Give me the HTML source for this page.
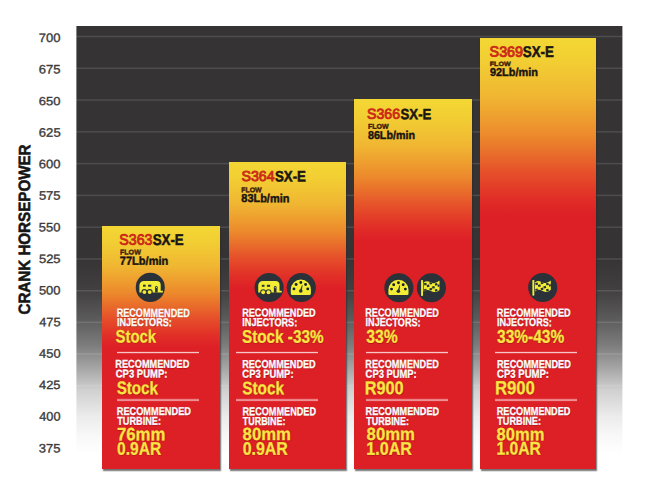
<!DOCTYPE html><html><head><meta charset="utf-8"><title>Crank Horsepower Chart</title><style>

html,body{margin:0;padding:0;background:#fff;}
body{width:648px;height:493px;position:relative;overflow:hidden;font-family:"Liberation Sans",sans-serif;}
#panel{position:absolute;left:0;top:0;transform:translate(76.4px,26px);width:545.8px;height:432px;
 background:linear-gradient(to bottom,#353334 0px,#353334 230px,#413f40 264px,#5b5a5a 292px,#7d7c7c 319px,#a9a9a9 344px,#d0d0d0 364px,#ebebeb 390px,#f8f8f8 410px,#ffffff 428px);}
.g{position:absolute;left:76px;width:546px;height:3px;}
.bar{position:absolute;box-shadow:1.1px 1.8px 1.2px rgba(45,42,42,0.66);}
.t{position:absolute;left:0;top:0;white-space:nowrap;line-height:1;transform-origin:0 0;font-weight:bold;}
.ax{font-weight:normal;color:#3a3a3a;-webkit-text-stroke:0.35px #3a3a3a;}
.tb{color:#1a1612;-webkit-text-stroke:0.5px #1a1612;}
.tr{color:#cc2a18;font-weight:normal;-webkit-text-stroke:0.85px #cc2a18;}
.fl{color:#3a1a0a;-webkit-text-stroke:0.35px #3a1a0a;}
.fv{color:#1a1510;-webkit-text-stroke:0.45px #1a1510;}
.w{color:#fff;-webkit-text-stroke:0.3px #fff;text-shadow:0.4px 0.6px 0.8px rgba(110,0,0,0.6);}
.y{color:#fce445;-webkit-text-stroke:0.3px #fce445;text-shadow:0 0 1.2px rgba(150,40,0,0.8),0.4px 0.6px 1px rgba(120,10,0,0.6);}
.ln{position:absolute;}
#yl{position:absolute;left:0;top:0;white-space:nowrap;line-height:1;font-weight:bold;color:#151515;-webkit-text-stroke:0.55px #151515;transform-origin:0 0;}

</style></head><body>
<div id="panel"></div>
<div class="g" style="top:35px;background:linear-gradient(to bottom,rgba(255,255,255,0.03) 0px,rgba(255,255,255,0.03) 1px,rgba(255,255,255,0.12) 1px,rgba(255,255,255,0.12) 2px,rgba(255,255,255,0.03) 2px,rgba(255,255,255,0.03) 3px)"></div>
<div class="g" style="top:67px;background:linear-gradient(to bottom,rgba(255,255,255,0.056) 0px,rgba(255,255,255,0.056) 1px,rgba(255,255,255,0.12) 1px,rgba(255,255,255,0.12) 2px,rgba(255,255,255,0.004) 2px,rgba(255,255,255,0.004) 3px)"></div>
<div class="g" style="top:99px;background:linear-gradient(to bottom,rgba(255,255,255,0.083) 0px,rgba(255,255,255,0.083) 1px,rgba(255,255,255,0.097) 1px,rgba(255,255,255,0.097) 2px,rgba(255,255,255,0.0) 2px,rgba(255,255,255,0.0) 3px)"></div>
<div class="g" style="top:131px;background:linear-gradient(to bottom,rgba(255,255,255,0.109) 0px,rgba(255,255,255,0.109) 1px,rgba(255,255,255,0.071) 1px,rgba(255,255,255,0.071) 2px,rgba(255,255,255,0.0) 2px,rgba(255,255,255,0.0) 3px)"></div>
<div class="g" style="top:162px;background:linear-gradient(to bottom,rgba(255,255,255,0.016) 0px,rgba(255,255,255,0.016) 1px,rgba(255,255,255,0.12) 1px,rgba(255,255,255,0.12) 2px,rgba(255,255,255,0.044) 2px,rgba(255,255,255,0.044) 3px)"></div>
<div class="g" style="top:194px;background:linear-gradient(to bottom,rgba(255,255,255,0.042) 0px,rgba(255,255,255,0.042) 1px,rgba(255,255,255,0.12) 1px,rgba(255,255,255,0.12) 2px,rgba(255,255,255,0.018) 2px,rgba(255,255,255,0.018) 3px)"></div>
<div class="g" style="top:226px;background:linear-gradient(to bottom,rgba(255,255,255,0.068) 0px,rgba(255,255,255,0.068) 1px,rgba(255,255,255,0.112) 1px,rgba(255,255,255,0.112) 2px,rgba(255,255,255,0.0) 2px,rgba(255,255,255,0.0) 3px)"></div>
<div class="g" style="top:258px;background:linear-gradient(to bottom,rgba(255,255,255,0.095) 0px,rgba(255,255,255,0.095) 1px,rgba(255,255,255,0.085) 1px,rgba(255,255,255,0.085) 2px,rgba(255,255,255,0.0) 2px,rgba(255,255,255,0.0) 3px)"></div>
<div class="g" style="top:289px;background:linear-gradient(to bottom,rgba(255,255,255,0.001) 0px,rgba(255,255,255,0.001) 1px,rgba(255,255,255,0.12) 1px,rgba(255,255,255,0.12) 2px,rgba(255,255,255,0.059) 2px,rgba(255,255,255,0.059) 3px)"></div>
<div class="g" style="top:321px;background:linear-gradient(to bottom,rgba(255,255,255,0.049) 0px,rgba(255,255,255,0.049) 1px,rgba(255,255,255,0.12) 1px,rgba(255,255,255,0.12) 2px,rgba(255,255,255,0.011) 2px,rgba(255,255,255,0.011) 3px)"></div>
<div class="g" style="top:353px;background:linear-gradient(to bottom,rgba(255,255,255,0.097) 0px,rgba(255,255,255,0.097) 1px,rgba(255,255,255,0.083) 1px,rgba(255,255,255,0.083) 2px,rgba(255,255,255,0.0) 2px,rgba(255,255,255,0.0) 3px)"></div>
<div class="g" style="top:384px;background:linear-gradient(to bottom,rgba(255,255,255,0.025) 0px,rgba(255,255,255,0.025) 1px,rgba(255,255,255,0.12) 1px,rgba(255,255,255,0.12) 2px,rgba(255,255,255,0.035) 2px,rgba(255,255,255,0.035) 3px)"></div>
<div class="g" style="top:416px;background:linear-gradient(to bottom,rgba(255,255,255,0.073) 0px,rgba(255,255,255,0.073) 1px,rgba(255,255,255,0.107) 1px,rgba(255,255,255,0.107) 2px,rgba(255,255,255,0.0) 2px,rgba(255,255,255,0.0) 3px)"></div>
<div class="g" style="top:447px;background:linear-gradient(to bottom,rgba(255,255,255,0.001) 0px,rgba(255,255,255,0.001) 1px,rgba(255,255,255,0.12) 1px,rgba(255,255,255,0.12) 2px,rgba(255,255,255,0.059) 2px,rgba(255,255,255,0.059) 3px)"></div>
<div class="bar" id="bar1" style="left:102.30px;top:225.90px;width:118.00px;height:242.90px;background:linear-gradient(to bottom,#f3d733 0.0px,#f2cf33 14.6px,#f0b632 40.3px,#ec892c 67.1px,#e6512a 91.5px,#e12f27 109.8px,#dd1f26 122.0px)"></div>
<div class="bar" id="bar2" style="left:228.90px;top:161.50px;width:117.10px;height:307.30px;background:linear-gradient(to bottom,#f3d733 0.0px,#f2cf33 15.2px,#f0b632 41.9px,#ec892c 69.9px,#e6512a 95.2px,#e12f27 114.3px,#dd1f26 127.0px)"></div>
<div class="bar" id="bar3" style="left:354.00px;top:99.00px;width:117.60px;height:369.80px;background:linear-gradient(to bottom,#f3d733 0.0px,#f2cf33 17.0px,#f0b632 46.9px,#ec892c 78.1px,#e6512a 106.5px,#e12f27 127.8px,#dd1f26 142.0px)"></div>
<div class="bar" id="bar4" style="left:479.90px;top:37.60px;width:116.60px;height:431.20px;background:linear-gradient(to bottom,#f3d733 0.0px,#f2cf33 21.4px,#f0b632 58.7px,#ec892c 97.9px,#e6512a 133.5px,#e12f27 160.2px,#dd1f26 178.0px)"></div>
<div class="ln" style="left:117px;top:351px;width:82px;height:3px;background:linear-gradient(to bottom,rgba(255,255,255,0.1) 0px,rgba(255,255,255,0.1) 1px,rgba(255,255,255,0.74) 1px,rgba(255,255,255,0.74) 2px,rgba(255,255,255,0.14) 2px,rgba(255,255,255,0.14) 3px)"></div>
<div class="ln" style="left:117px;top:398px;width:82px;height:4px;background:linear-gradient(to bottom,rgba(255,255,255,0.08) 0px,rgba(255,255,255,0.08) 1px,rgba(255,255,255,0.44) 1px,rgba(255,255,255,0.44) 2px,rgba(255,255,255,0.5) 2px,rgba(255,255,255,0.5) 3px,rgba(255,255,255,0.06) 3px,rgba(255,255,255,0.06) 4px)"></div>
<div class="ln" style="left:236px;top:351px;width:82px;height:3px;background:linear-gradient(to bottom,rgba(255,255,255,0.1) 0px,rgba(255,255,255,0.1) 1px,rgba(255,255,255,0.74) 1px,rgba(255,255,255,0.74) 2px,rgba(255,255,255,0.14) 2px,rgba(255,255,255,0.14) 3px)"></div>
<div class="ln" style="left:236px;top:398px;width:82px;height:4px;background:linear-gradient(to bottom,rgba(255,255,255,0.08) 0px,rgba(255,255,255,0.08) 1px,rgba(255,255,255,0.44) 1px,rgba(255,255,255,0.44) 2px,rgba(255,255,255,0.5) 2px,rgba(255,255,255,0.5) 3px,rgba(255,255,255,0.06) 3px,rgba(255,255,255,0.06) 4px)"></div>
<div class="ln" style="left:366px;top:351px;width:82px;height:3px;background:linear-gradient(to bottom,rgba(255,255,255,0.1) 0px,rgba(255,255,255,0.1) 1px,rgba(255,255,255,0.74) 1px,rgba(255,255,255,0.74) 2px,rgba(255,255,255,0.14) 2px,rgba(255,255,255,0.14) 3px)"></div>
<div class="ln" style="left:366px;top:398px;width:82px;height:4px;background:linear-gradient(to bottom,rgba(255,255,255,0.08) 0px,rgba(255,255,255,0.08) 1px,rgba(255,255,255,0.44) 1px,rgba(255,255,255,0.44) 2px,rgba(255,255,255,0.5) 2px,rgba(255,255,255,0.5) 3px,rgba(255,255,255,0.06) 3px,rgba(255,255,255,0.06) 4px)"></div>
<div class="ln" style="left:495px;top:351px;width:82px;height:3px;background:linear-gradient(to bottom,rgba(255,255,255,0.1) 0px,rgba(255,255,255,0.1) 1px,rgba(255,255,255,0.74) 1px,rgba(255,255,255,0.74) 2px,rgba(255,255,255,0.14) 2px,rgba(255,255,255,0.14) 3px)"></div>
<div class="ln" style="left:495px;top:398px;width:82px;height:4px;background:linear-gradient(to bottom,rgba(255,255,255,0.08) 0px,rgba(255,255,255,0.08) 1px,rgba(255,255,255,0.44) 1px,rgba(255,255,255,0.44) 2px,rgba(255,255,255,0.5) 2px,rgba(255,255,255,0.5) 3px,rgba(255,255,255,0.06) 3px,rgba(255,255,255,0.06) 4px)"></div>
<div id="yl" style="font-size:16.43px;transform:translate(15.99px,314.51px) rotate(-89.95deg) scaleX(0.9226)">CRANK HORSEPOWER</div>
<div class="t ax" id="ax700" style="font-size:12.21px;transform:translate(38.86px,32.09px) rotate(0.05deg) scaleX(1.0655)">700</div>
<div class="t ax" id="ax675" style="font-size:12.32px;transform:translate(38.86px,63.61px) rotate(0.05deg) scaleX(1.0604)">675</div>
<div class="t ax" id="ax650" style="font-size:11.94px;transform:translate(38.85px,96.31px) rotate(0.05deg) scaleX(1.0865)">650</div>
<div class="t ax" id="ax625" style="font-size:12.41px;transform:translate(38.84px,126.71px) rotate(0.05deg) scaleX(1.0541)">625</div>
<div class="t ax" id="ax600" style="font-size:12.23px;transform:translate(38.77px,158.33px) rotate(0.05deg) scaleX(1.0657)">600</div>
<div class="t ax" id="ax575" style="font-size:12.36px;transform:translate(38.90px,189.84px) rotate(0.05deg) scaleX(1.0517)">575</div>
<div class="t ax" id="ax550" style="font-size:12.35px;transform:translate(38.87px,221.41px) rotate(0.05deg) scaleX(1.0466)">550</div>
<div class="t ax" id="ax525" style="font-size:12.20px;transform:translate(38.91px,252.97px) rotate(0.05deg) scaleX(1.0671)">525</div>
<div class="t ax" id="ax500" style="font-size:12.20px;transform:translate(38.89px,284.60px) rotate(0.05deg) scaleX(1.0610)">500</div>
<div class="t ax" id="ax475" style="font-size:12.25px;transform:translate(39.22px,316.13px) rotate(0.05deg) scaleX(1.0464)">475</div>
<div class="t ax" id="ax450" style="font-size:12.47px;transform:translate(39.11px,347.85px) rotate(0.05deg) scaleX(1.0332)">450</div>
<div class="t ax" id="ax425" style="font-size:12.00px;transform:translate(39.09px,379.08px) rotate(0.05deg) scaleX(1.0690)">425</div>
<div class="t ax" id="ax400" style="font-size:12.66px;transform:translate(39.32px,410.79px) rotate(0.05deg) scaleX(1.0024)">400</div>
<div class="t ax" id="ax375" style="font-size:12.30px;transform:translate(38.79px,442.45px) rotate(0.05deg) scaleX(1.0600)">375</div>
<div class="t tr" id="t1r" style="font-size:15.11px;transform:translate(119.34px,231.77px) rotate(0.05deg) scaleX(0.9390)">S363</div>
<div class="t tb" id="t1b" style="font-size:15.50px;transform:translate(152.65px,231.92px) rotate(0.05deg) scaleX(0.8592)">SX-E</div>
<div class="t fl" id="f1" style="font-size:6.96px;transform:translate(119.92px,249.54px) rotate(0.05deg) scaleX(1.0226)">FLOW</div>
<div class="t fv" id="v1" style="font-size:11.51px;transform:translate(119.84px,255.81px) rotate(0.05deg) scaleX(0.9605)">77Lb/min</div>
<div class="t w" id="a1r" style="font-size:11.79px;transform:translate(116.66px,306.85px) rotate(0.05deg) scaleX(0.7714)">RECOMMENDED</div>
<div class="t w" id="a1l" style="font-size:11.43px;transform:translate(117.00px,317.09px) rotate(0.05deg) scaleX(0.7943)">INJECTORS:</div>
<div class="t y" id="a1v" style="font-size:17.91px;transform:translate(115.57px,328.46px) rotate(0.05deg) scaleX(0.8322)">Stock</div>
<div class="t w" id="b1r" style="font-size:11.36px;transform:translate(115.35px,358.81px) rotate(0.05deg) scaleX(0.8092)">RECOMMENDED</div>
<div class="t w" id="b1l" style="font-size:11.25px;transform:translate(115.77px,368.54px) rotate(0.05deg) scaleX(0.8429)">CP3 PUMP:</div>
<div class="t y" id="b1v" style="font-size:17.89px;transform:translate(116.71px,380.10px) rotate(0.05deg) scaleX(0.8480)">Stock</div>
<div class="t w" id="c1r" style="font-size:11.43px;transform:translate(116.73px,406.06px) rotate(0.05deg) scaleX(0.8066)">RECOMMENDED</div>
<div class="t w" id="c1l" style="font-size:11.45px;transform:translate(117.24px,415.78px) rotate(0.05deg) scaleX(0.8002)">TURBINE:</div>
<div class="t y" id="c1v" style="font-size:17.92px;transform:translate(116.98px,426.16px) rotate(0.05deg) scaleX(0.9367)">76mm</div>
<div class="t y" id="c1w" style="font-size:18.10px;transform:translate(117.13px,439.72px) rotate(0.05deg) scaleX(0.8592)">0.9AR</div>
<div class="t tr" id="t2r" style="font-size:14.46px;transform:translate(241.50px,168.99px) rotate(0.05deg) scaleX(0.9833)">S364</div>
<div class="t tb" id="t2b" style="font-size:15.23px;transform:translate(274.92px,168.47px) rotate(0.05deg) scaleX(0.8742)">SX-E</div>
<div class="t fl" id="f2" style="font-size:6.93px;transform:translate(241.14px,187.25px) rotate(0.05deg) scaleX(1.0063)">FLOW</div>
<div class="t fv" id="v2" style="font-size:11.60px;transform:translate(241.29px,192.11px) rotate(0.05deg) scaleX(0.9456)">83Lb/min</div>
<div class="t w" id="a2r" style="font-size:11.41px;transform:translate(242.17px,307.56px) rotate(0.05deg) scaleX(0.8005)">RECOMMENDED</div>
<div class="t w" id="a2l" style="font-size:11.56px;transform:translate(242.29px,317.11px) rotate(0.05deg) scaleX(0.7877)">INJECTORS:</div>
<div class="t y" id="a2v" style="font-size:18.15px;transform:translate(241.96px,327.66px) rotate(0.05deg) scaleX(0.8432)">Stock -33%</div>
<div class="t w" id="b2r" style="font-size:11.56px;transform:translate(242.16px,358.92px) rotate(0.05deg) scaleX(0.7906)">RECOMMENDED</div>
<div class="t w" id="b2l" style="font-size:11.57px;transform:translate(242.35px,368.79px) rotate(0.05deg) scaleX(0.8127)">CP3 PUMP:</div>
<div class="t y" id="b2v" style="font-size:18.09px;transform:translate(242.23px,379.22px) rotate(0.05deg) scaleX(0.8474)">Stock</div>
<div class="t w" id="c2r" style="font-size:11.49px;transform:translate(242.50px,406.14px) rotate(0.05deg) scaleX(0.7944)">RECOMMENDED</div>
<div class="t w" id="c2l" style="font-size:11.53px;transform:translate(242.86px,415.91px) rotate(0.05deg) scaleX(0.7736)">TURBINE:</div>
<div class="t y" id="c2v" style="font-size:17.55px;transform:translate(242.62px,426.08px) rotate(0.05deg) scaleX(0.9534)">80mm</div>
<div class="t y" id="c2w" style="font-size:18.12px;transform:translate(242.71px,439.72px) rotate(0.05deg) scaleX(0.8792)">0.9AR</div>
<div class="t tr" id="t3r" style="font-size:14.46px;transform:translate(367.12px,106.82px) rotate(0.05deg) scaleX(0.9765)">S366</div>
<div class="t tb" id="t3b" style="font-size:14.91px;transform:translate(400.59px,107.13px) rotate(0.05deg) scaleX(0.8831)">SX-E</div>
<div class="t fl" id="f3" style="font-size:6.96px;transform:translate(367.92px,123.76px) rotate(0.05deg) scaleX(1.0104)">FLOW</div>
<div class="t fv" id="v3" style="font-size:11.45px;transform:translate(367.93px,130.04px) rotate(0.05deg) scaleX(0.9371)">86Lb/min</div>
<div class="t w" id="a3r" style="font-size:11.64px;transform:translate(365.20px,306.59px) rotate(0.05deg) scaleX(0.7875)">RECOMMENDED</div>
<div class="t w" id="a3l" style="font-size:11.63px;transform:translate(365.57px,316.11px) rotate(0.05deg) scaleX(0.7838)">INJECTORS:</div>
<div class="t y" id="a3v" style="font-size:18.70px;transform:translate(366.24px,327.82px) rotate(0.05deg) scaleX(0.8430)">33%</div>
<div class="t w" id="b3r" style="font-size:11.63px;transform:translate(365.37px,357.88px) rotate(0.05deg) scaleX(0.7850)">RECOMMENDED</div>
<div class="t w" id="b3l" style="font-size:11.58px;transform:translate(365.61px,368.71px) rotate(0.05deg) scaleX(0.8110)">CP3 PUMP:</div>
<div class="t y" id="b3v" style="font-size:18.69px;transform:translate(364.78px,379.24px) rotate(0.05deg) scaleX(0.8706)">R900</div>
<div class="t w" id="c3r" style="font-size:11.30px;transform:translate(365.54px,406.07px) rotate(0.05deg) scaleX(0.8085)">RECOMMENDED</div>
<div class="t w" id="c3l" style="font-size:11.53px;transform:translate(366.34px,415.91px) rotate(0.05deg) scaleX(0.7757)">TURBINE:</div>
<div class="t y" id="c3v" style="font-size:17.55px;transform:translate(366.62px,426.08px) rotate(0.05deg) scaleX(0.9534)">80mm</div>
<div class="t y" id="c3w" style="font-size:18.34px;transform:translate(366.35px,439.78px) rotate(0.05deg) scaleX(0.8751)">1.0AR</div>
<div class="t tr" id="t4r" style="font-size:14.80px;transform:translate(489.62px,44.62px) rotate(0.05deg) scaleX(0.9666)">S369</div>
<div class="t tb" id="t4b" style="font-size:15.50px;transform:translate(522.83px,44.01px) rotate(0.05deg) scaleX(0.8581)">SX-E</div>
<div class="t fl" id="f4" style="font-size:6.17px;transform:translate(489.67px,60.99px) rotate(0.05deg) scaleX(1.1587)">FLOW</div>
<div class="t fv" id="v4" style="font-size:11.45px;transform:translate(489.91px,67.03px) rotate(0.05deg) scaleX(0.9570)">92Lb/min</div>
<div class="t w" id="a4r" style="font-size:11.37px;transform:translate(496.88px,307.52px) rotate(0.05deg) scaleX(0.8062)">RECOMMENDED</div>
<div class="t w" id="a4l" style="font-size:11.43px;transform:translate(497.00px,317.09px) rotate(0.05deg) scaleX(0.7943)">INJECTORS:</div>
<div class="t y" id="a4v" style="font-size:18.59px;transform:translate(497.10px,327.72px) rotate(0.05deg) scaleX(0.8337)">33%-43%</div>
<div class="t w" id="b4r" style="font-size:11.50px;transform:translate(496.93px,359.05px) rotate(0.05deg) scaleX(0.7974)">RECOMMENDED</div>
<div class="t w" id="b4l" style="font-size:11.61px;transform:translate(497.06px,367.80px) rotate(0.05deg) scaleX(0.8225)">CP3 PUMP:</div>
<div class="t y" id="b4v" style="font-size:18.91px;transform:translate(494.89px,379.13px) rotate(0.05deg) scaleX(0.8865)">R900</div>
<div class="t w" id="c4r" style="font-size:11.52px;transform:translate(496.75px,406.06px) rotate(0.05deg) scaleX(0.7942)">RECOMMENDED</div>
<div class="t w" id="c4l" style="font-size:11.45px;transform:translate(497.24px,415.78px) rotate(0.05deg) scaleX(0.8002)">TURBINE:</div>
<div class="t y" id="c4v" style="font-size:17.82px;transform:translate(496.63px,426.13px) rotate(0.05deg) scaleX(0.9267)">80mm</div>
<div class="t y" id="c4w" style="font-size:18.24px;transform:translate(496.53px,439.58px) rotate(0.05deg) scaleX(0.8566)">1.0AR</div>
<svg class="ic" style="position:absolute;left:0;top:0;transform:translate(134.30px,271.40px)" width="32" height="32" viewBox="-16 -16 32 32"><circle cx="0" cy="0" r="14.55" fill="#2a3138"/><path d="M-10.9,5.0 V-2.0 a4.5,4.5 0 0 1 4.5,-4.5 H6.4 a4.0,4.0 0 0 1 4.0,4.0 V3.3 H12.6 V5.0 Z" fill="#f3ee35"/><rect x="-7.3" y="-2.7" width="2.7" height="2.0" fill="#2a3138"/><rect x="-2.2" y="-2.7" width="3.2" height="2.0" fill="#2a3138"/><path d="M4.8,5.2 V-0.2 a1.3,1.3 0 0 1 2.6,0 V5.2 Z" fill="#2a3138"/><circle cx="6.1" cy="0.1" r="0.55" fill="#fff8c0"/><circle cx="-5.9" cy="4.7" r="3.0" fill="#2a3138"/><circle cx="-5.9" cy="4.7" r="1.95" fill="#f3ee35"/><circle cx="-0.6" cy="4.7" r="3.0" fill="#2a3138"/><circle cx="-0.6" cy="4.7" r="1.95" fill="#f3ee35"/></svg>
<svg class="ic" style="position:absolute;left:0;top:0;transform:translate(253.10px,271.50px)" width="32" height="32" viewBox="-16 -16 32 32"><circle cx="0" cy="0" r="14.55" fill="#2a3138"/><path d="M-10.9,5.0 V-2.0 a4.5,4.5 0 0 1 4.5,-4.5 H6.4 a4.0,4.0 0 0 1 4.0,4.0 V3.3 H12.6 V5.0 Z" fill="#f3ee35"/><rect x="-7.3" y="-2.7" width="2.7" height="2.0" fill="#2a3138"/><rect x="-2.2" y="-2.7" width="3.2" height="2.0" fill="#2a3138"/><path d="M4.8,5.2 V-0.2 a1.3,1.3 0 0 1 2.6,0 V5.2 Z" fill="#2a3138"/><circle cx="6.1" cy="0.1" r="0.55" fill="#fff8c0"/><circle cx="-5.9" cy="4.7" r="3.0" fill="#2a3138"/><circle cx="-5.9" cy="4.7" r="1.95" fill="#f3ee35"/><circle cx="-0.6" cy="4.7" r="3.0" fill="#2a3138"/><circle cx="-0.6" cy="4.7" r="1.95" fill="#f3ee35"/></svg>
<svg class="ic" style="position:absolute;left:0;top:0;transform:translate(285.30px,271.50px)" width="32" height="32" viewBox="-16 -16 32 32"><circle cx="0" cy="0" r="14.55" fill="#2a3138"/><path d="M-10.5,6.1000000000000005 V2.0500000000000007 a10.05,10.05 0 0 1 20.1,0 V6.1000000000000005 a1.3,1.3 0 0 1 -1.3,1.3 H-9.2 a1.3,1.3 0 0 1 -1.3,-1.3 Z" fill="#f3ee35"/><circle cx="-7.35" cy="1.4" r="1.45" fill="#1c2026"/><circle cx="-5.20" cy="-3.0" r="1.45" fill="#1c2026"/><circle cx="-0.45" cy="-5.0" r="1.45" fill="#1c2026"/><circle cx="4.30" cy="-3.0" r="1.45" fill="#1c2026"/><circle cx="6.45" cy="1.4" r="1.45" fill="#1c2026"/><path d="M-1.35,3.2 L0.65,-2.6 L1.25,-2.3 L0.45,3.8 Z" fill="#2a3138"/><circle cx="-0.55" cy="3.5" r="1.8" fill="#2a3138"/></svg>
<svg class="ic" style="position:absolute;left:0;top:0;transform:translate(382.90px,271.70px)" width="32" height="32" viewBox="-16 -16 32 32"><circle cx="0" cy="0" r="14.55" fill="#2a3138"/><path d="M-10.5,6.1000000000000005 V2.0500000000000007 a10.05,10.05 0 0 1 20.1,0 V6.1000000000000005 a1.3,1.3 0 0 1 -1.3,1.3 H-9.2 a1.3,1.3 0 0 1 -1.3,-1.3 Z" fill="#f3ee35"/><circle cx="-7.35" cy="1.4" r="1.45" fill="#1c2026"/><circle cx="-5.20" cy="-3.0" r="1.45" fill="#1c2026"/><circle cx="-0.45" cy="-5.0" r="1.45" fill="#1c2026"/><circle cx="4.30" cy="-3.0" r="1.45" fill="#1c2026"/><circle cx="6.45" cy="1.4" r="1.45" fill="#1c2026"/><path d="M-1.35,3.2 L0.65,-2.6 L1.25,-2.3 L0.45,3.8 Z" fill="#2a3138"/><circle cx="-0.55" cy="3.5" r="1.8" fill="#2a3138"/></svg>
<svg class="ic" style="position:absolute;left:0;top:0;transform:translate(415.40px,271.70px)" width="32" height="32" viewBox="-16 -16 32 32"><circle cx="0" cy="0" r="14.55" fill="#2a3138"/><rect x="-10.3" y="-7.6" width="1.9" height="15.9" rx="0.7" fill="#f3ee35"/><clipPath id="fc1"><path d="M-7.7,-5.1 C-5.5,-6.9 -3.5,-6.9 -1.5,-5.6 C0.8,-4.1 3.5,-3.6 8.1,-7.1 V2.2 C5.0,4.9 2.0,4.9 -0.5,3.3 C-3.0,1.7 -5.5,1.9 -7.7,3.9 Z"/></clipPath><path d="M-7.7,-5.1 C-5.5,-6.9 -3.5,-6.9 -1.5,-5.6 C0.8,-4.1 3.5,-3.6 8.1,-7.1 V2.2 C5.0,4.9 2.0,4.9 -0.5,3.3 C-3.0,1.7 -5.5,1.9 -7.7,3.9 Z" fill="#f3ee35"/><g clip-path="url(#fc1)"><rect x="-7.30" y="-4.70" width="2.5" height="2.2" fill="#2a3138" transform="rotate(-14 -6.10 -3.60)"/><rect x="-1.90" y="-5.60" width="2.5" height="2.2" fill="#2a3138" transform="rotate(-14 -0.70 -4.50)"/><rect x="3.50" y="-4.50" width="2.5" height="2.2" fill="#2a3138" transform="rotate(-14 4.70 -3.40)"/><rect x="-4.60" y="-2.90" width="2.5" height="2.2" fill="#2a3138" transform="rotate(-14 -3.40 -1.80)"/><rect x="0.80" y="-1.40" width="2.5" height="2.2" fill="#2a3138" transform="rotate(-14 2.00 -0.30)"/><rect x="6.20" y="-3.20" width="2.5" height="2.2" fill="#2a3138" transform="rotate(-14 7.40 -2.10)"/><rect x="-7.30" y="1.30" width="2.5" height="2.2" fill="#2a3138" transform="rotate(-14 -6.10 2.40)"/><rect x="-1.90" y="0.40" width="2.5" height="2.2" fill="#2a3138" transform="rotate(-14 -0.70 1.50)"/><rect x="3.50" y="1.50" width="2.5" height="2.2" fill="#2a3138" transform="rotate(-14 4.70 2.60)"/></g></svg>
<svg class="ic" style="position:absolute;left:0;top:0;transform:translate(526.70px,271.50px)" width="32" height="32" viewBox="-16 -16 32 32"><circle cx="0" cy="0" r="14.55" fill="#2a3138"/><rect x="-10.3" y="-7.6" width="1.9" height="15.9" rx="0.7" fill="#f3ee35"/><clipPath id="fc2"><path d="M-7.7,-5.1 C-5.5,-6.9 -3.5,-6.9 -1.5,-5.6 C0.8,-4.1 3.5,-3.6 8.1,-7.1 V2.2 C5.0,4.9 2.0,4.9 -0.5,3.3 C-3.0,1.7 -5.5,1.9 -7.7,3.9 Z"/></clipPath><path d="M-7.7,-5.1 C-5.5,-6.9 -3.5,-6.9 -1.5,-5.6 C0.8,-4.1 3.5,-3.6 8.1,-7.1 V2.2 C5.0,4.9 2.0,4.9 -0.5,3.3 C-3.0,1.7 -5.5,1.9 -7.7,3.9 Z" fill="#f3ee35"/><g clip-path="url(#fc2)"><rect x="-7.30" y="-4.70" width="2.5" height="2.2" fill="#2a3138" transform="rotate(-14 -6.10 -3.60)"/><rect x="-1.90" y="-5.60" width="2.5" height="2.2" fill="#2a3138" transform="rotate(-14 -0.70 -4.50)"/><rect x="3.50" y="-4.50" width="2.5" height="2.2" fill="#2a3138" transform="rotate(-14 4.70 -3.40)"/><rect x="-4.60" y="-2.90" width="2.5" height="2.2" fill="#2a3138" transform="rotate(-14 -3.40 -1.80)"/><rect x="0.80" y="-1.40" width="2.5" height="2.2" fill="#2a3138" transform="rotate(-14 2.00 -0.30)"/><rect x="6.20" y="-3.20" width="2.5" height="2.2" fill="#2a3138" transform="rotate(-14 7.40 -2.10)"/><rect x="-7.30" y="1.30" width="2.5" height="2.2" fill="#2a3138" transform="rotate(-14 -6.10 2.40)"/><rect x="-1.90" y="0.40" width="2.5" height="2.2" fill="#2a3138" transform="rotate(-14 -0.70 1.50)"/><rect x="3.50" y="1.50" width="2.5" height="2.2" fill="#2a3138" transform="rotate(-14 4.70 2.60)"/></g></svg>
</body></html>
